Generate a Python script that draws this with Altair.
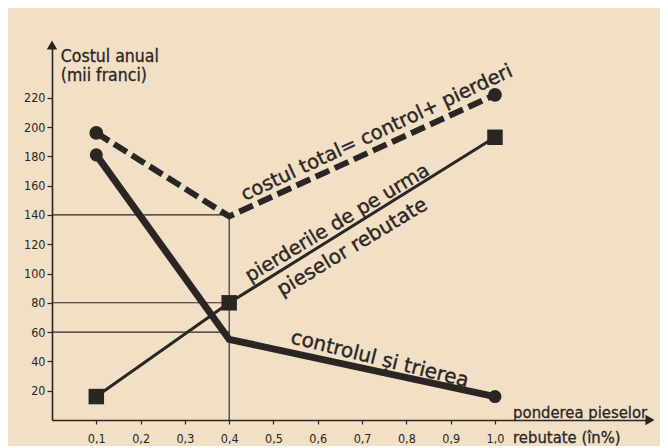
import altair as alt
import pandas as pd

# ---- data ----
x_vals = [0.1, 0.4, 1.0]
total_cost = [196, 139, 222]      # costul total = control + pierderi
control_cost = [181, 55, 16]      # controlul si trierea
loss_cost = [16, 80, 193]         # pierderile de pe urma pieselor rebutate

x_ticks = [0.1, 0.2, 0.3, 0.4, 0.5, 0.6, 0.7, 0.8, 0.9, 1.0]
y_ticks = [20, 40, 60, 80, 100, 120, 140, 160, 180, 200, 220]

guide_levels = [140, 80, 60]
guide_x = 0.4

label_texts = ["costul total= control+ pierderi", "pierderile de pe urma",
               "pieselor rebutate", "controlul și trierea"]
label_x = [0.733, 0.644, 0.678, 0.740]
label_y = [196, 134.5, 118, 41.5]
label_angle = [335, 329, 329, 14]
label_size = [19.5, 19.5, 20, 20]

ytitle_lines = ["Costul anual", "(mii franci)"]
ytitle_y = [248, 234.5]
xtitle_lines = ["ponderea pieselor", "rebutate (în%)"]
xtitle_y = [5, -12.3]

X_DOMAIN = [0, 1.35]
Y_DOMAIN = [0, 256]

INK = "#2a2623"
PAPER = "#f1dfc6"
FONT = "DejaVu Sans"
COND = "DejaVu Sans Condensed"

xscale = alt.Scale(domain=X_DOMAIN, nice=False, zero=False)
yscale = alt.Scale(domain=Y_DOMAIN, nice=False, zero=False)

xaxis = alt.Axis(values=x_ticks, title=None, grid=False,
                 labelExpr="replace(format(datum.value, '.1f'), '.', ',')",
                 labelFont=COND, labelFontSize=12.5, labelColor=INK,
                 tickColor=INK, tickSize=4, tickWidth=1.2,
                 domainColor=INK, domainWidth=1.6, labelPadding=8)
yaxis = alt.Axis(values=y_ticks, title=None, grid=False,
                 labelFont=COND, labelFontSize=12.5, labelColor=INK,
                 tickColor=INK, tickSize=5, tickWidth=1.2,
                 domainColor=INK, domainWidth=1.6, labelPadding=2)


def X(field="x"):
    return alt.X(f"{field}:Q", scale=xscale, axis=xaxis)


def Y(field="y"):
    return alt.Y(f"{field}:Q", scale=yscale, axis=yaxis)


series = pd.DataFrame({"x": x_vals, "total": total_cost,
                       "control": control_cost, "loss": loss_cost})
ends = series[series["x"] != guide_x]

guides_h = pd.DataFrame({"y": guide_levels, "x": [0] * len(guide_levels),
                         "x2": [guide_x] * len(guide_levels)})
guide_v = pd.DataFrame({"x": [guide_x], "y": [0], "y2": [max(guide_levels)]})

h_rules = alt.Chart(guides_h).mark_rule(color=INK, strokeWidth=1.1).encode(
    x=X("x"), x2="x2:Q", y=Y("y"))
v_rule = alt.Chart(guide_v).mark_rule(color=INK, strokeWidth=1.1).encode(
    x=X("x"), y=Y("y"), y2="y2:Q")

total_line = alt.Chart(series).mark_line(
    color=INK, strokeWidth=6, strokeDash=[15, 6]).encode(x=X("x"), y=Y("total"))
total_pts = alt.Chart(ends).mark_point(
    shape="circle", filled=True, color=INK, size=190, opacity=1).encode(
    x=X("x"), y=Y("total"))

control_line = alt.Chart(series).mark_line(
    color=INK, strokeWidth=7).encode(x=X("x"), y=Y("control"))
control_pts = alt.Chart(ends).mark_point(
    shape="circle", filled=True, color=INK, size=170, opacity=1).encode(
    x=X("x"), y=Y("control"))

loss_line = alt.Chart(series).mark_line(
    color=INK, strokeWidth=3).encode(x=X("x"), y=Y("loss"))
loss_pts = alt.Chart(series).mark_point(
    shape="square", filled=True, color=INK, size=240, opacity=1).encode(
    x=X("x"), y=Y("loss"))

labels_df = pd.DataFrame({"text": label_texts, "x": label_x, "y": label_y,
                          "angle": label_angle, "fs": label_size})
labels = alt.Chart(labels_df).mark_text(
    font=FONT, color=INK, stroke=INK, strokeWidth=0.4,
    align="center", baseline="middle").encode(
    x=X("x"), y=Y("y"), text="text:N",
    angle=alt.Angle("angle:Q", scale=None),
    size=alt.Size("fs:Q", scale=None))

ytitle_df = pd.DataFrame({"text": ytitle_lines, "x": [0.02, 0.02], "y": ytitle_y})
ytitle = alt.Chart(ytitle_df).mark_text(
    font=COND, fontSize=17.5, color=INK, stroke=INK, strokeWidth=0.3,
    align="left", baseline="middle").encode(
    x=X("x"), y=Y("y"), text="text:N")

xtitle_df = pd.DataFrame({"text": xtitle_lines, "x": [1.041, 1.041], "y": xtitle_y})
xtitle = alt.Chart(xtitle_df).mark_text(
    font=COND, fontSize=16.5, color=INK, stroke=INK, strokeWidth=0.3,
    align="left", baseline="middle").encode(
    x=X("x"), y=Y("y"), text="text:N")

arrows_df = pd.DataFrame({"x": [X_DOMAIN[1], X_DOMAIN[0]],
                          "y": [Y_DOMAIN[0], Y_DOMAIN[1]],
                          "shape": ["triangle-right", "triangle-up"]})
arrows = alt.Chart(arrows_df).mark_point(
    filled=True, color=INK, size=110, opacity=1).encode(
    x=X("x"), y=Y("y"), shape=alt.Shape("shape:N", scale=None))

chart = alt.layer(
    h_rules, v_rule, total_line, total_pts, control_line, control_pts,
    loss_line, loss_pts, labels, ytitle, xtitle, arrows
).properties(
    width=598, height=375,
    autosize="none",
    padding={"left": 44, "top": 37, "right": 10, "bottom": 26},
    background=PAPER,
).configure_view(stroke=None)

chart.save("out.html", embed_options={"renderer": "svg", "actions": False})
